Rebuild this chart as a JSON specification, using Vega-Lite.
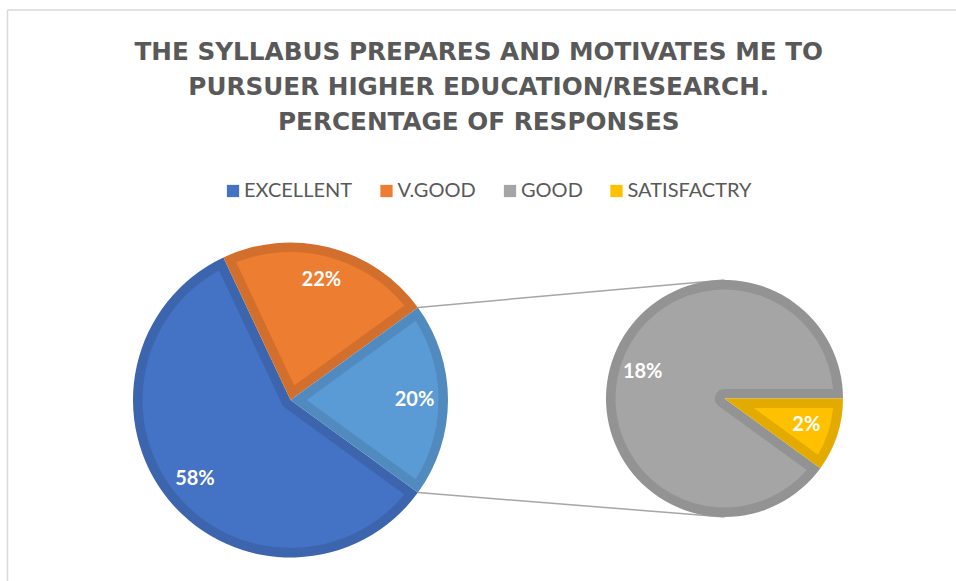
{
  "$schema": "https://vega.github.io/schema/vega-lite/v6.json",
  "width": 948.5,
  "height": 571,
  "autosize": {"type": "none"},
  "padding": {"left": 7.5, "top": 10, "right": 0, "bottom": 0},
  "background": "white",
  "config": {"view": {"stroke": null}},
  "title": {
    "text": ["THE SYLLABUS PREPARES AND MOTIVATES ME TO", "PURSUER HIGHER EDUCATION/RESEARCH.", "PERCENTAGE OF RESPONSES"],
    "anchor": "middle",
    "frame": "group",
    "orient": "top",
    "baseline": "top",
    "offset": -125,
    "dx": -3,
    "font": "DejaVu Sans",
    "fontWeight": "bold",
    "fontSize": 24.7,
    "lineHeight": 35,
    "color": "#595959"
  },
  "datasets": {
    "main": [
      {"category": "EXCELLENT", "share": 0.58},
      {"category": "V.GOOD", "share": 0.22},
      {"category": "OTHER", "share": 0.20}
    ],
    "breakdown": [
      {"category": "GOOD", "share": 0.18},
      {"category": "SATISFACTRY", "share": 0.02}
    ]
  },
  "layer": [
    {
      "data": {"values": [{}]},
      "mark": {"type": "rule", "stroke": "#D9D9D9", "strokeWidth": 1.5},
      "encoding": {
        "x": {"datum": -1.79683, "type": "quantitative", "axis": null, "scale": {"domain": [-1.79683, 4.2254], "nice": false, "zero": false}},
        "x2": {"datum": 4.2254},
        "y": {"datum": 2.47619, "type": "quantitative", "axis": null, "scale": {"domain": [-1.14921, 2.47619], "nice": false, "zero": false}}
      }
    },
    {
      "data": {"values": [{}]},
      "mark": {"type": "rule", "stroke": "#D9D9D9", "strokeWidth": 1.5},
      "encoding": {
        "x": {"datum": -1.79683, "type": "quantitative", "axis": null, "scale": {"domain": [-1.79683, 4.2254], "nice": false, "zero": false}},
        "y": {"datum": -1.14921, "type": "quantitative", "axis": null, "scale": {"domain": [-1.14921, 2.47619], "nice": false, "zero": false}},
        "y2": {"datum": 2.47619}
      }
    },
    {
      "data": {"values": [{}]},
      "mark": {"type": "rule", "stroke": "#A6A6A6", "strokeWidth": 1.5},
      "encoding": {
        "x": {"datum": 0.809, "type": "quantitative", "axis": null, "scale": {"domain": [-1.79683, 4.2254], "nice": false, "zero": false}},
        "y": {"datum": 0.5878, "type": "quantitative", "axis": null, "scale": {"domain": [-1.14921, 2.47619], "nice": false, "zero": false}},
        "x2": {"datum": 2.75556},
        "y2": {"datum": 0.7619}
      }
    },
    {
      "data": {"values": [{}]},
      "mark": {"type": "rule", "stroke": "#A6A6A6", "strokeWidth": 1.5},
      "encoding": {
        "x": {"datum": 0.809, "type": "quantitative", "axis": null, "scale": {"domain": [-1.79683, 4.2254], "nice": false, "zero": false}},
        "y": {"datum": -0.5878, "type": "quantitative", "axis": null, "scale": {"domain": [-1.14921, 2.47619], "nice": false, "zero": false}},
        "x2": {"datum": 2.75556},
        "y2": {"datum": -0.7429}
      }
    },
    {
      "data": {"name": "main"},
      "encoding": {
        "x": {"datum": 0, "type": "quantitative", "axis": null, "scale": {"domain": [-1.79683, 4.2254], "nice": false, "zero": false}},
        "y": {"datum": 0, "type": "quantitative", "axis": null, "scale": {"domain": [-1.14921, 2.47619], "nice": false, "zero": false}},
        "theta": {"field": "share", "type": "quantitative", "stack": "normalize", "scale": {"range": [2.19911, 8.4823]}},
        "order": {"field": "share", "sort": "descending"}
      },
      "layer": [
        {
          "mark": {"type": "arc", "radius": 157.5},
          "encoding": {
            "fill": {"field": "category", "type": "nominal", "legend": null,
              "scale": {"domain": ["OTHER", "EXCELLENT", "V.GOOD", "GOOD", "SATISFACTRY"], "range": ["#518ABE", "#3C65AE", "#D36F2C", "#939393", "#E3AB00"]}}
          }
        },
        {
          "mark": {"type": "arc", "radius": 148,
            "radius2": {"expr": "(datum.share_end-datum.share_start) > 0.5 ? 9.5 : 9.5/sin(PI*(datum.share_end-datum.share_start))"},
            "padAngle": {"expr": "2*asin(9.5/sqrt(pow((datum.share_end-datum.share_start) > 0.5 ? 9.5 : 9.5/sin(PI*(datum.share_end-datum.share_start)),2)+148*148))"}},
          "encoding": {
            "color": {"field": "category", "type": "nominal",
              "scale": {"domain": ["EXCELLENT", "V.GOOD", "GOOD", "SATISFACTRY", "OTHER"], "range": ["#4472C4", "#ED7D31", "#A5A5A5", "#FFC000", "#5B9BD5"]},
              "legend": {"orient": "none", "legendX": 215.5, "legendY": 171, "direction": "horizontal", "title": null,
                "values": ["EXCELLENT", "V.GOOD", "GOOD", "SATISFACTRY"], "symbolType": "square", "symbolSize": 150, "symbolStrokeWidth": 0,
                "labelFont": "Lato", "labelFontSize": 20, "labelColor": "#595959", "columnPadding": 23.5, "labelOffset": 1, "padding": 0}}
          }
        },
        {
          "mark": {"type": "text", "radius": 124, "font": "Lato", "fontWeight": "bold", "fontSize": 20, "color": "white"},
          "encoding": {"text": {"field": "share", "type": "quantitative", "format": ".0%"}}
        }
      ]
    },
    {
      "data": {"name": "breakdown"},
      "encoding": {
        "x": {"datum": 2.75556, "type": "quantitative", "axis": null, "scale": {"domain": [-1.79683, 4.2254], "nice": false, "zero": false}},
        "y": {"datum": 0.00952, "type": "quantitative", "axis": null, "scale": {"domain": [-1.14921, 2.47619], "nice": false, "zero": false}},
        "theta": {"field": "share", "type": "quantitative", "stack": "normalize", "scale": {"range": [2.19911, 8.4823]}},
        "order": {"field": "share", "sort": "descending"}
      },
      "layer": [
        {
          "mark": {"type": "arc", "radius": 118.5},
          "encoding": {
            "fill": {"field": "category", "type": "nominal", "legend": null,
              "scale": {"domain": ["OTHER", "EXCELLENT", "V.GOOD", "GOOD", "SATISFACTRY"], "range": ["#518ABE", "#3C65AE", "#D36F2C", "#939393", "#E3AB00"]}}
          }
        },
        {
          "mark": {"type": "arc", "radius": 109,
            "radius2": {"expr": "(datum.share_end-datum.share_start) > 0.5 ? 9.5 : 9.5/sin(PI*(datum.share_end-datum.share_start))"},
            "padAngle": {"expr": "2*asin(9.5/sqrt(pow((datum.share_end-datum.share_start) > 0.5 ? 9.5 : 9.5/sin(PI*(datum.share_end-datum.share_start)),2)+109*109))"}},
          "encoding": {
            "color": {"field": "category", "type": "nominal",
              "scale": {"domain": ["EXCELLENT", "V.GOOD", "GOOD", "SATISFACTRY", "OTHER"], "range": ["#4472C4", "#ED7D31", "#A5A5A5", "#FFC000", "#5B9BD5"]},
              "legend": {"orient": "none", "legendX": 215.5, "legendY": 171, "direction": "horizontal", "title": null,
                "values": ["EXCELLENT", "V.GOOD", "GOOD", "SATISFACTRY"], "symbolType": "square", "symbolSize": 150, "symbolStrokeWidth": 0,
                "labelFont": "Lato", "labelFontSize": 20, "labelColor": "#595959", "columnPadding": 23.5, "labelOffset": 1, "padding": 0}}
          }
        },
        {
          "mark": {"type": "text", "radius": 86, "font": "Lato", "fontWeight": "bold", "fontSize": 20, "color": "white"},
          "encoding": {"text": {"field": "share", "type": "quantitative", "format": ".0%"}}
        }
      ]
    }
  ]
}
